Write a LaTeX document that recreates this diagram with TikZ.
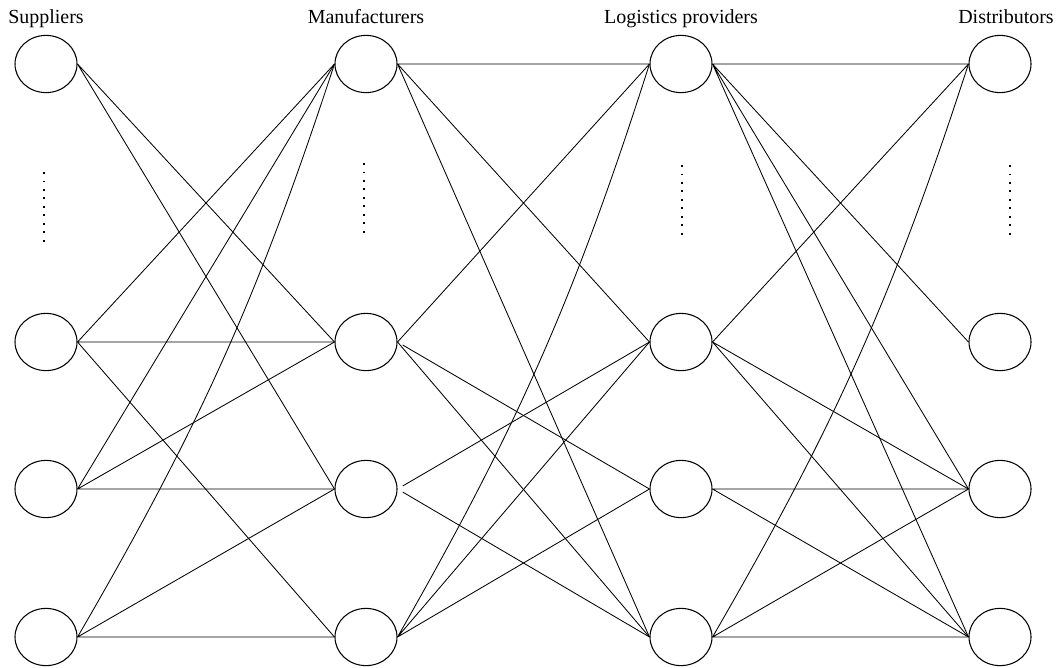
\documentclass[tikz,border=0pt]{standalone}
\usepackage{fontspec}
\setmainfont{Liberation Serif}
\usetikzlibrary{shapes.geometric}

\begin{document}
\begin{tikzpicture}[x=0.025cm, y=-0.025cm, line width=0.6pt,
  hub/.style={draw, ellipse, line width=0.75pt, minimum width=1.55cm,
              minimum height=1.43cm, inner sep=0pt},
  head/.style={anchor=base, font=\fontsize{14.2}{17}\selectfont},
  vdots/.style={line width=1.1pt, dash pattern=on 1.4pt off 4.64pt},
  gap/.style={shorten <=0.15cm}]
  \useasboundingbox (0,0) rectangle (1057,667);
  % column headings
  \node[head] (hS) at (46,23) {Suppliers};
  \node[head] (hM) at (366,23) {Manufacturers};
  \node[head] (hL) at (681,23) {Logistics providers};
  \node[head] (hD) at (1006,23) {Distributors};
  % suppliers
  \node[hub] (S1) at (46,64) {};  \node[hub] (S2) at (46,342) {};
  \node[hub] (S3) at (46,489) {}; \node[hub] (S4) at (46,637) {};
  % manufacturers
  \node[hub] (M1) at (366,64) {};  \node[hub] (M2) at (366,342) {};
  \node[hub] (M3) at (366,489) {}; \node[hub] (M4) at (366,637) {};
  % logistics providers
  \node[hub] (L1) at (681,64) {};  \node[hub] (L2) at (681,342) {};
  \node[hub] (L3) at (681,489) {}; \node[hub] (L4) at (681,637) {};
  % distributors
  \node[hub] (D1) at (1000,64) {};  \node[hub] (D2) at (1000,342) {};
  \node[hub] (D3) at (1000,489) {}; \node[hub] (D4) at (1000,637) {};
  % omitted members
  \draw[vdots] (44,172) -- (44,241.5);
  \draw[vdots] (364,163) -- (364,232.5);
  \draw[vdots] (682,165) -- (682,234.5);
  \draw[vdots] (1010,165) -- (1010,234.5);
  % suppliers to manufacturers
  \draw (S1.east) -- (M2.west) (S1.east) -- (M3.west);
  \draw (S2.east) -- (M1.west) (S2.east) -- (M2.west) (S2.east) -- (M4.west);
  \draw (S3.east) -- (M1.west) (S3.east) -- (M2.west) (S3.east) -- (M3.west);
  \draw (S4.east) to[bend right=6] (M1.west) (S4.east) -- (M3.west) (S4.east) -- (M4.west);
  % manufacturers to logistics providers
  \draw (M1.east) -- (L1.west) (M1.east) -- (L2.west) (M1.east) -- (L4.west);
  \draw (M2.east) -- (L1.west) (M2.east) -- (L4.west);
  \draw[gap] (M2.east) -- (L3.west);
  \draw[gap] (M3.east) -- (L2.west);
  \draw[gap] (M3.east) -- (L4.west);
  \draw (M4.east) to[bend right=6] (L1.west) (M4.east) -- (L2.west) (M4.east) -- (L3.west);
  % logistics providers to distributors
  \draw (L1.east) -- (D1.west) (L1.east) -- (D2.west) (L1.east) -- (D3.west) (L1.east) -- (D4.west);
  \draw (L2.east) -- (D1.west) (L2.east) -- (D3.west) (L2.east) -- (D4.west);
  \draw (L3.east) -- (D3.west) (L3.east) -- (D4.west);
  \draw (L4.east) to[bend right=6] (D1.west) (L4.east) -- (D3.west) (L4.east) -- (D4.west);
\end{tikzpicture}
\end{document}
